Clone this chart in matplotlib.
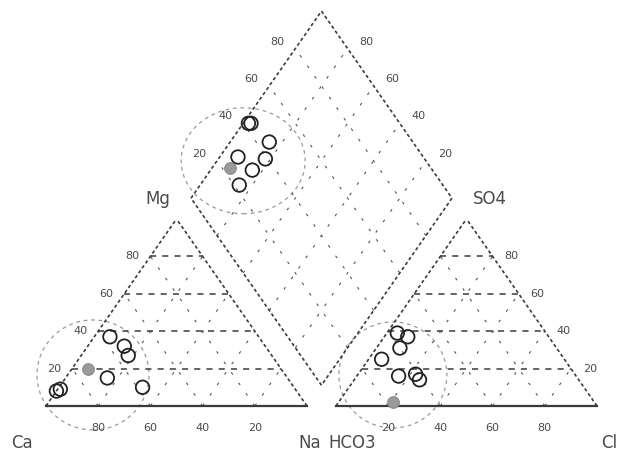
import numpy as np
import matplotlib.pyplot as plt
from matplotlib.patches import Ellipse

# cation triangle: Mg %, Na(+K) %  (Ca = 100 - Mg - Na)
cat_mg = [37, 32, 27, 15, 10, 8, 9]
cat_na = [6, 14, 18, 16, 32, 0, 1]
cat_ref = (20, 6)          # grey reference sample (Mg, Na)

# anion triangle: SO4 %, Cl %  (HCO3 = 100 - SO4 - Cl)
an_so4 = [39, 37, 31, 25, 16, 17, 14]
an_cl = [4, 9, 9, 5, 16, 22, 25]
an_ref = (2, 21)           # grey reference sample (SO4, Cl)

# diamond: Ca+Mg %, SO4+Cl %
dia_camg = [98, 97, 85, 93, 82, 84, 85]
dia_so4cl = [42, 43, 45, 29, 39, 31, 22]
dia_ref = (93, 23)

ticks = [20, 40, 60, 80]

h = np.sqrt(3) / 2
g = 0.111                  # gap between the two triangles
xr = 1 + g                 # left corner of anion triangle
B = np.array([1 + g / 2, g * h])   # bottom of diamond

fig = plt.figure(figsize=(6.23, 4.66), dpi=100)
ax = fig.add_axes([0, 0, 1, 1])
ax.set_xlim(-0.1762, 2.2107)
ax.set_ylim(-0.2778, 1.8796)
ax.axis('off')

edge_c = '#3a3a3a'
grid_c = '#555555'
txt_c = '#4a4a4a'


def cat_xy(mg, na):
    mg, na = np.asarray(mg) / 100, np.asarray(na) / 100
    return na + mg / 2, mg * h


def an_xy(so4, cl):
    so4, cl = np.asarray(so4) / 100, np.asarray(cl) / 100
    return xr + cl + so4 / 2, so4 * h


def dia_xy(a, b):
    a, b = np.asarray(a) / 100, np.asarray(b) / 100
    return B[0] - a / 2 + b / 2, B[1] + (a + b) * h


def line(p, q, **kw):
    ax.plot([p[0], q[0]], [p[1], q[1]], **kw)


sparse = dict(color=grid_c, lw=0.8, dashes=(2.5, 9))
hdash = dict(color=edge_c, lw=1.1, dashes=(4, 4))
side = dict(color=edge_c, lw=1.2, dashes=(2, 1.6))

# triangles
for x0 in (0, xr):
    for t in np.array(ticks) / 100:
        line((x0 + t / 2, t * h), (x0 + 1 - t / 2, t * h), **hdash)
        line((x0 + t, 0), (x0 + t + (1 - t) / 2, (1 - t) * h), **sparse)
        line((x0 + 1 - t, 0), (x0 + (1 - t) / 2, (1 - t) * h), **sparse)
    line((x0, 0), (x0 + 1, 0), color=edge_c, lw=1.6)
    line((x0, 0), (x0 + 0.5, h), **side)
    line((x0 + 1, 0), (x0 + 0.5, h), **side)

# diamond
for t in ticks:
    p, q = dia_xy(t, 0), dia_xy(t, 100)
    line(p, q, **sparse)
    p, q = dia_xy(0, t), dia_xy(100, t)
    line(p, q, **sparse)
corners = [dia_xy(0, 0), dia_xy(100, 0), dia_xy(100, 100), dia_xy(0, 100), dia_xy(0, 0)]
for p, q in zip(corners[:-1], corners[1:]):
    line(p, q, **side)

# tick labels
fs = 8
for t in ticks:
    x, y = cat_xy(t, 0)
    ax.annotate(str(t), (x, y), xytext=(-18, 0), textcoords='offset pixels',
                ha='center', va='center', fontsize=fs, color=txt_c)
    x, y = cat_xy(0, 100 - t)
    ax.annotate(str(t), (x, y), xytext=(0, -22), textcoords='offset pixels',
                ha='center', va='center', fontsize=fs, color=txt_c)
    x, y = an_xy(t, 100 - t)
    ax.annotate(str(t), (x, y), xytext=(19, 0), textcoords='offset pixels',
                ha='center', va='center', fontsize=fs, color=txt_c)
    x, y = an_xy(0, t)
    ax.annotate(str(t), (x, y), xytext=(0, -22), textcoords='offset pixels',
                ha='center', va='center', fontsize=fs, color=txt_c)
    x, y = dia_xy(100, t)
    ax.annotate(str(t), (x, y), xytext=(-18, 7), textcoords='offset pixels',
                ha='center', va='center', fontsize=fs, color=txt_c)
    x, y = dia_xy(t, 100)
    ax.annotate(str(t), (x, y), xytext=(19, 7), textcoords='offset pixels',
                ha='center', va='center', fontsize=fs, color=txt_c)

# axis names
lab = dict(textcoords='offset pixels', ha='center', va='center', fontsize=12, color=txt_c)
ax.annotate('Mg', (0.5, h), xytext=(-19, 20), **lab)
ax.annotate('SO4', (xr + 0.5, h), xytext=(23, 20), **lab)
ax.annotate('Ca', (0, 0), xytext=(-24, -37), **lab)
ax.annotate('Na', (1, 0), xytext=(3, -37), **lab)
ax.annotate('HCO3', (xr, 0), xytext=(16, -37), **lab)
ax.annotate('Cl', (xr + 1, 0), xytext=(12, -37), **lab)

# dashed grouping circles (radii in pixels)
sx, sy = 261, 216
for (cx, cy), rx, ry in [(cat_xy(16.6, 9.7), 56, 55), (an_xy(16.6, 13.5), 54, 53),
                          (dia_xy(90, 30), 62, 53)]:
    ax.add_patch(Ellipse((cx, cy), 2 * rx / sx, 2 * ry / sy, fill=False,
                         ec='#9a9a9a', lw=0.9, ls=(0, (3, 3))))

# samples
pt = dict(s=95, facecolors='none', edgecolors='#222222', linewidths=1.3, zorder=5)
ref = dict(s=70, color='#9a9a9a', edgecolors='#8a8a8a', linewidths=0.8, zorder=5)
ax.scatter(*cat_xy(cat_mg, cat_na), **pt)
ax.scatter(*an_xy(an_so4, an_cl), **pt)
ax.scatter(*dia_xy(dia_camg, dia_so4cl), **pt)
ax.scatter(*cat_xy(*cat_ref), **ref)
ax.scatter(*an_xy(*an_ref), **ref)
ax.scatter(*dia_xy(*dia_ref), **ref)

fig.savefig('out.png', dpi=100, facecolor='white')
